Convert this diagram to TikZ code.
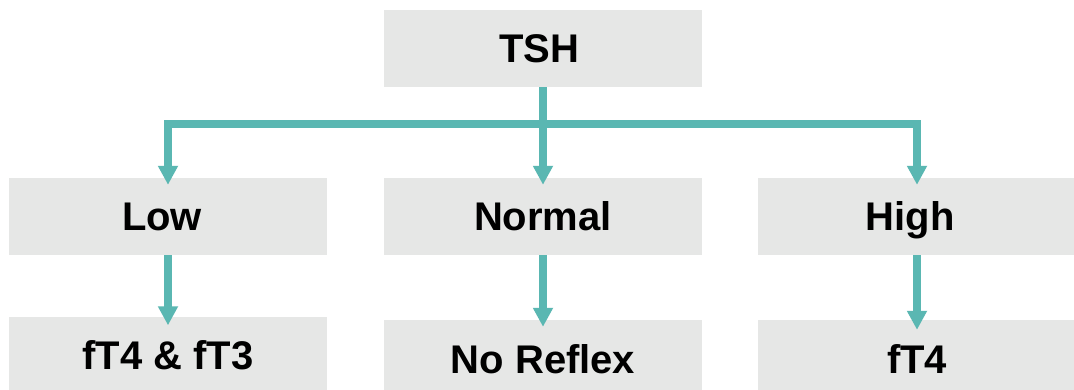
\documentclass[tikz,border=0pt]{standalone}
\usepackage{fontspec}
\setmainfont{Liberation Sans}
\usetikzlibrary{arrows.meta}
\definecolor{boxgray}{HTML}{E6E7E6}
\definecolor{teal}{HTML}{5AB7B2}
\begin{document}
\begin{tikzpicture}[x=1pt,y=-1pt,
  box/.style={fill=boxgray, draw=none, rectangle, minimum width=318pt, minimum height=77pt, inner sep=0pt,
    text height=29pt, text depth=0pt,
    font=\fontsize{40}{46}\selectfont\bfseries},
  conn/.style={draw=teal, line width=7.5pt, line join=miter, -{Triangle[width=19pt,length=19pt]}, shorten >=-7pt}]
\useasboundingbox (0,0) rectangle (1074,390);
\fill[white] (0,0) rectangle (1074,390);
\node[box] (tsh) at (543,48.5) {\hspace*{-8pt}TSH};
\node[box] (low) at (168,216.5) {\hspace*{-12pt}Low};
\node[box] (normal) at (543,216.5) {Normal};
\node[box] (high) at (917,216.5) {\hspace*{-14pt}High};
\node[box] (r1) at (168,355) {fT4 \& fT3};
\node[box] (r2) at (543,358.5) {No Reflex};
\node[box] (r3) at (917,358.5) {fT4};
\coordinate (bus) at (543,124);
\draw[conn] (tsh.south) -- (normal.north);
\draw[conn] (bus) -| (low.north);
\draw[conn] (bus) -| (high.north);
\draw[conn,shorten >=-9pt] (low.south) -- (r1.north);
\draw[conn] (normal.south) -- (r2.north);
\draw[conn,shorten >=-10pt] (high.south) -- (r3.north);
\end{tikzpicture}
\end{document}
